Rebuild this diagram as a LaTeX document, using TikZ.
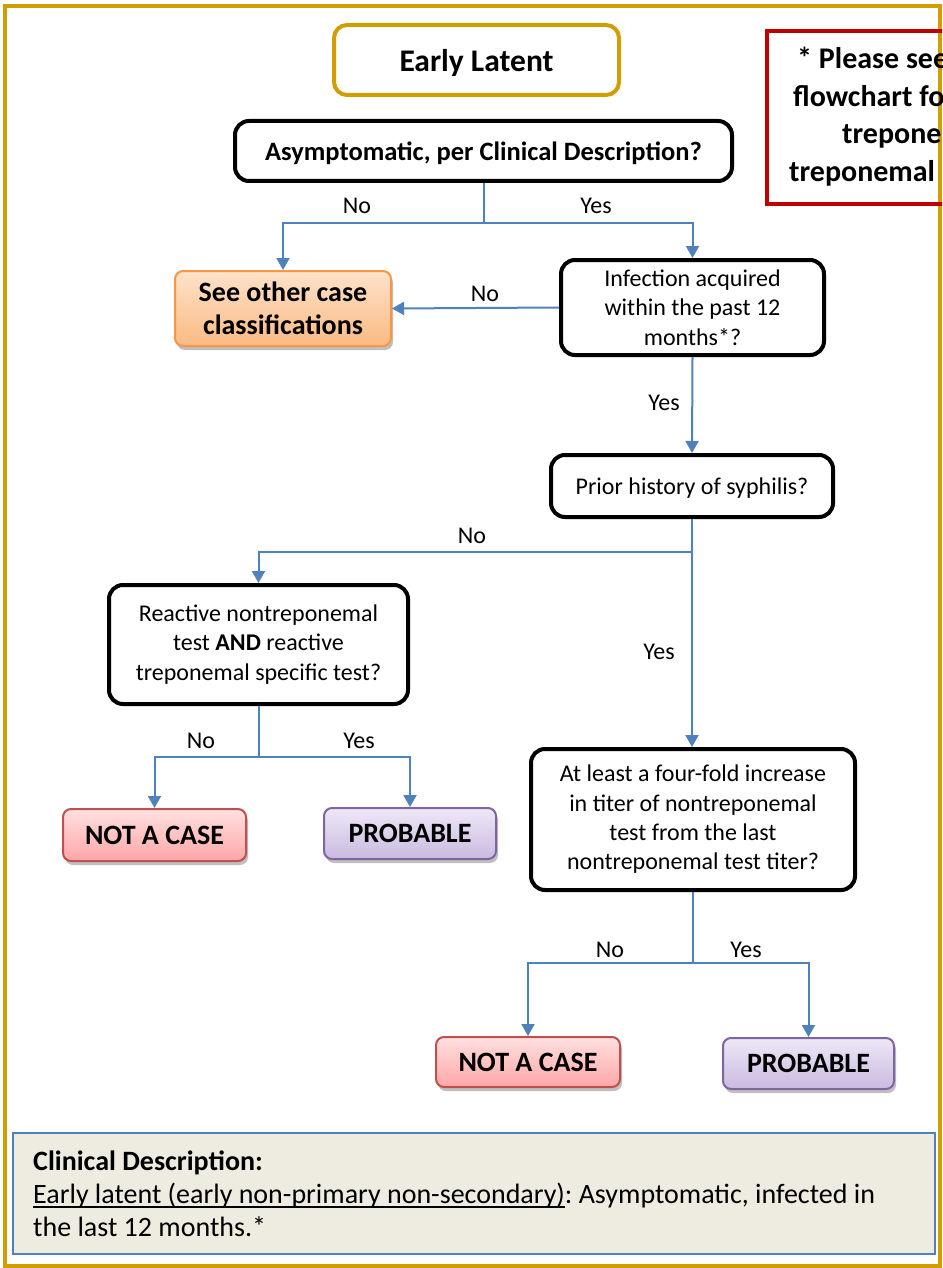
\documentclass[tikz,border=0pt]{standalone}
\usepackage{fontspec}
\setmainfont{Carlito}
\usetikzlibrary{arrows.meta,shadows,calc}
\frenchspacing

\definecolor{goldline}{RGB}{208,158,0}
\definecolor{flowblue}{RGB}{79,129,189}
\definecolor{notered}{RGB}{192,0,0}
\definecolor{clinfill}{RGB}{238,236,225}
\definecolor{orangeline}{RGB}{247,150,70}
\definecolor{orangetop}{RGB}{253,226,202}
\definecolor{orangebot}{RGB}{251,186,130}
\definecolor{redline}{RGB}{192,80,77}
\definecolor{redtop}{RGB}{255,224,224}
\definecolor{redbot}{RGB}{255,166,166}
\definecolor{purpleline}{RGB}{128,100,162}
\definecolor{purpletop}{RGB}{238,232,246}
\definecolor{purplebot}{RGB}{201,186,224}

\newcommand{\fsz}[2]{\fontsize{#1}{#2}\selectfont}
% underline that sits just below the baseline and crosses descenders
\newcommand{\lowuline}[1]{\leavevmode\setbox0\hbox{#1}%
  \rlap{\rule[-4.6pt]{\wd0}{1.4pt}}\box0}
% lower a line of text without changing the size TikZ centres
\newcommand{\lowered}[1]{\raisebox{-2.5pt}[\height][\depth]{#1}}

\tikzset{
  qbox/.style={draw=black, line width=4pt, rounded corners=14pt, fill=white,
    align=center, inner sep=0pt, font=\fsz{24}{29.3}},
  outbox/.style={line width=2pt, rounded corners=8pt, align=center, inner sep=0pt,
    font=\bfseries\fsz{28}{33},
    drop shadow={shadow xshift=2pt, shadow yshift=-4pt, opacity=0.25, fill=black}},
  otherbox/.style={outbox, draw=orangeline, top color=orangetop, bottom color=orangebot},
  nacbox/.style={outbox, draw=redline, top color=redtop, bottom color=redbot},
  probbox/.style={outbox, draw=purpleline, top color=purpletop, bottom color=purplebot},
  conn/.style={draw=flowblue, line width=2pt},
  arr/.style={conn, -{Triangle[width=13pt,length=12pt]}},
  lbl/.style={inner sep=0pt, font=\fsz{24}{28}},
  notetext/.style={anchor=base west, inner sep=0pt, font=\bfseries\fsz{30}{37}},
  clintext/.style={anchor=base west, inner sep=0pt, font=\fsz{28}{32}}
}

\begin{document}
\begin{tikzpicture}[x=1pt, y=-1pt]
\useasboundingbox (0,0) rectangle (942,1268);
\clip (0,0) rectangle (942,1268);

% page frame
\draw[goldline, line width=4pt] (5,6) rectangle (940,1266);

% title
\node[draw=goldline, line width=4pt, rounded corners=13pt, fill=white,
  minimum width=285pt, minimum height=70pt, inner sep=0pt,
  font=\bfseries\fsz{31.5}{36}] (title) at (476.5,60) {\lowered{Early Latent}};

% footnote box (runs past the right edge)
\draw[notered, line width=3.5pt] (767,31) rectangle (1010,204);
\node[notetext] (n1) at (797,69) {* Please see};
\node[notetext] (n2) at (793,107) {flowchart for};
\node[notetext] (n3) at (842,144) {treponemal};
\node[notetext] (n4) at (789,182) {treponemal};

% decision boxes
\node[qbox, font=\bfseries\fsz{26.5}{32}, minimum width=497pt, minimum height=60pt]
  (asym) at (483.5,151) {\lowered{Asymptomatic, per Clinical Description?}};
\node[qbox, minimum width=263pt, minimum height=95pt]
  (infect) at (692.5,307.5) {Infection acquired\\within the past 12\\months*?};
\node[qbox, minimum width=282pt, minimum height=62pt]
  (prior) at (692,486) {\lowered{Prior history of syphilis?}};
\node[qbox, minimum width=299pt, minimum height=119pt]
  (react) at (258.5,644.5) {Reactive nontreponemal\\test \textbf{AND} reactive\\treponemal specific test?};
\node[qbox, minimum width=324pt, minimum height=141pt]
  (four) at (693,819.5) {At least a four-fold increase\\in titer of nontreponemal\\test from the last\\nontreponemal test titer?};

% outcome boxes
\node[otherbox, minimum width=216pt, minimum height=75pt]
  (other) at (283,308.5) {See other case\\classifications};
\node[nacbox, minimum width=183pt, minimum height=52pt]
  (nac1) at (154.5,835) {NOT A CASE};
\node[probbox, minimum width=172pt, minimum height=51pt]
  (prob1) at (410,833.5) {PROBABLE};
\node[nacbox, minimum width=184pt, minimum height=50pt]
  (nac2) at (528,1062) {NOT A CASE};
\node[probbox, minimum width=171pt, minimum height=51pt]
  (prob2) at (808.5,1063.5) {PROBABLE};

% junction points
\coordinate (j1) at (483.5,223);
\coordinate (j2) at (692,552);
\coordinate (j3) at (258.5,757);
\coordinate (j4) at (693,963);

% connectors
\draw[arr] (asym.south) -- (j1) -| (other.north);
\draw[arr] (j1) -| (infect.north);
\draw[arr] (infect.west) -- (other.east);
\draw[arr] (infect.south) -- (prior.north);
\draw[arr] (prior.south) -- (j2) -| (react.north);
\draw[arr] (j2) -- (j2 |- four.north);
\draw[arr] (react.south) -- (j3) -| (nac1.north);
\draw[arr] (j3) -| (prob1.north);
\draw[arr] (four.south) -- (j4) -| (nac2.north);
\draw[arr] (j4) -| (prob2.north);

% connector labels
\node[lbl] (l1) at (357,206) {No};
\node[lbl] (l2) at (596,206) {Yes};
\node[lbl] (l3) at (485,294) {No};
\node[lbl] (l4) at (664,403) {Yes};
\node[lbl] (l5) at (472,536) {No};
\node[lbl] (l6) at (659,652) {Yes};
\node[lbl] (l7) at (201,741) {No};
\node[lbl] (l8) at (359,741) {Yes};
\node[lbl] (l9) at (610,950) {No};
\node[lbl] (l10) at (746,950) {Yes};

% clinical description panel
\draw[flowblue, line width=2pt, fill=clinfill] (13,1133) rectangle (935,1254);
\node[clintext, font=\bfseries\fsz{28}{32}] (c1) at (33,1170) {Clinical Description:};
\node[clintext] (c2) at (33,1203)
  {\lowuline{Early latent (early non-primary non-secondary)}: Asymptomatic, infected in};
\node[clintext] (c3) at (33,1236) {the last 12 months.*};
\end{tikzpicture}
\end{document}
